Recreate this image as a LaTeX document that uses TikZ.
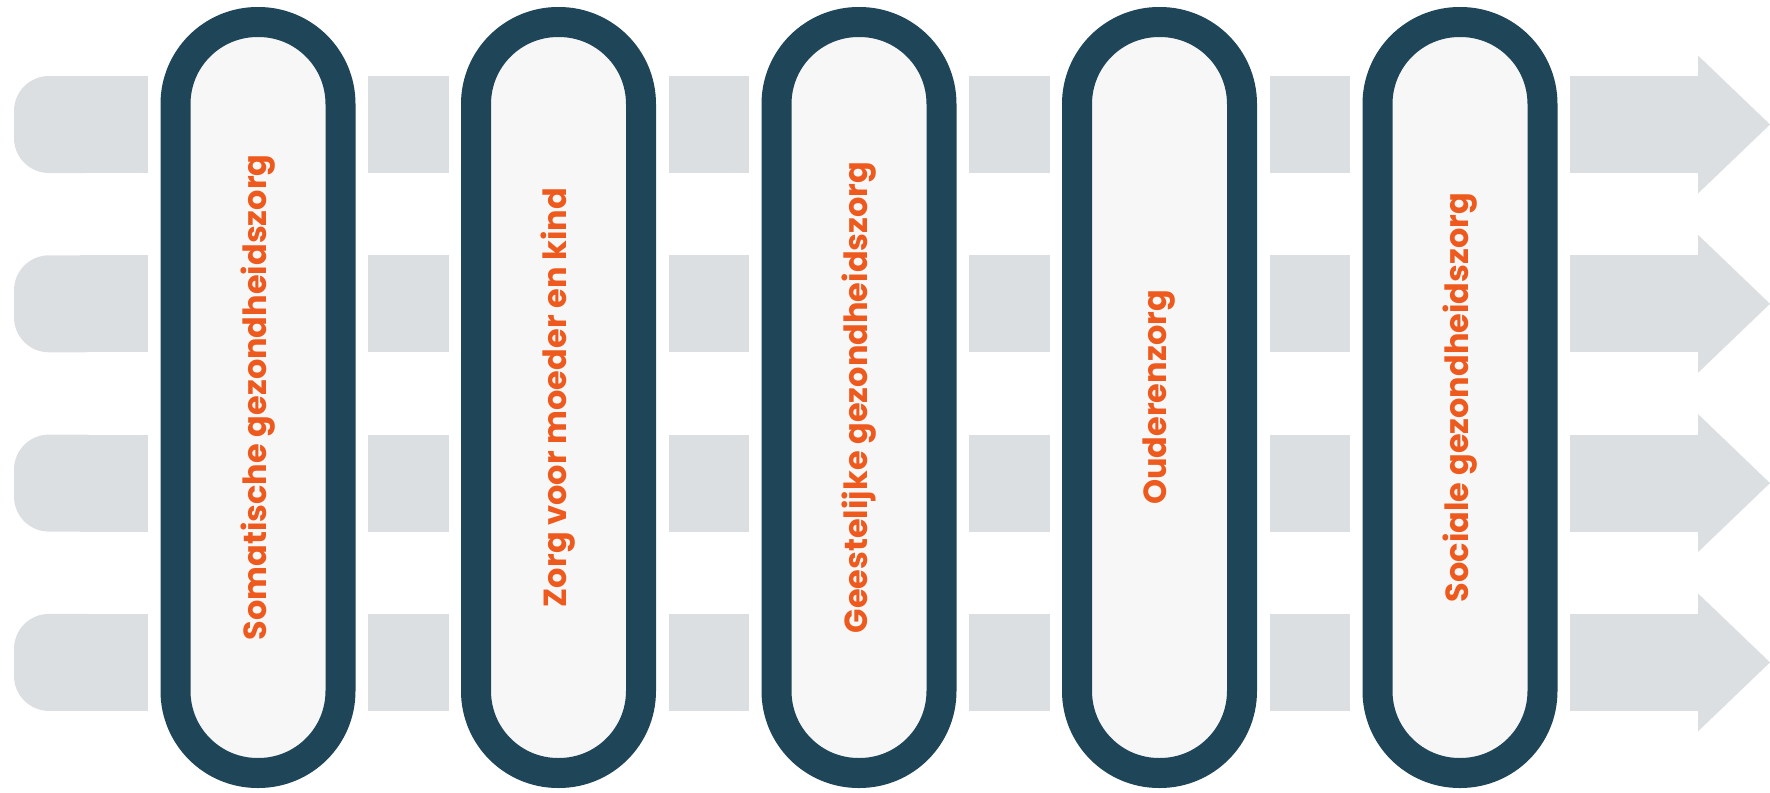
\documentclass[tikz,border=0pt]{standalone}
\usepackage{fontspec}
\setmainfont{Poppins}
\usetikzlibrary{positioning}

\definecolor{bandgrey}{HTML}{DCDFE2}
\definecolor{pillborder}{HTML}{1F4558}
\definecolor{pillfill}{HTML}{F7F7F7}
\definecolor{zorgorange}{HTML}{EE5A1E}

\tikzset{
	band/.style = {fill = bandgrey},
	pill/.style = {rectangle, rounded corners = 8.2mm, draw = pillborder, line width = 3mm, fill = pillfill,
		minimum width = 75.1mm, minimum height = 16.5mm, inner sep = 0pt, rotate = 90,
		text = zorgorange, font = \bfseries\fontsize{9.1}{11}\selectfont}
}

\begin{document}
\begin{tikzpicture}[x = 0.1mm, y = -0.1mm]
						\useasboundingbox (0, 0) rectangle (1770, 793);
						\foreach \j in {0, 1, 2, 3} {
							\pgfmathsetmacro{\yc}{124.5 + 179.3 * \j}
							\fill[band, rounded corners = 3.5mm] (14, {\yc - 48.5}) rectangle (120, {\yc + 48.5});
							\fill[band] (80, {\yc - 48.5}) rectangle (148, {\yc + 48.5});
							\foreach \i in {1, 2, 3, 4}
								\fill[band] ({258 + 300.5 * (\i - 1) + 110}, {\yc - 48.5}) rectangle ({258 + 300.5 * \i - 110}, {\yc + 48.5});
							\fill[band] (1570, {\yc - 48.5}) rectangle (1700, {\yc + 48.5});
							\fill[band] (1698, {\yc - 69}) -- (1770, \yc) -- (1698, {\yc + 69}) -- cycle;
						}
						\foreach \lbl [count = \i] in {Somatische gezondheidszorg, Zorg voor moeder en kind, Geestelijke gezondheidszorg, Ouderenzorg, Sociale gezondheidszorg}
							\node[pill] (p\i) at ({258 + 300.5 * (\i - 1)}, 397.5) {\lbl};
					\end{tikzpicture}
\end{document}
